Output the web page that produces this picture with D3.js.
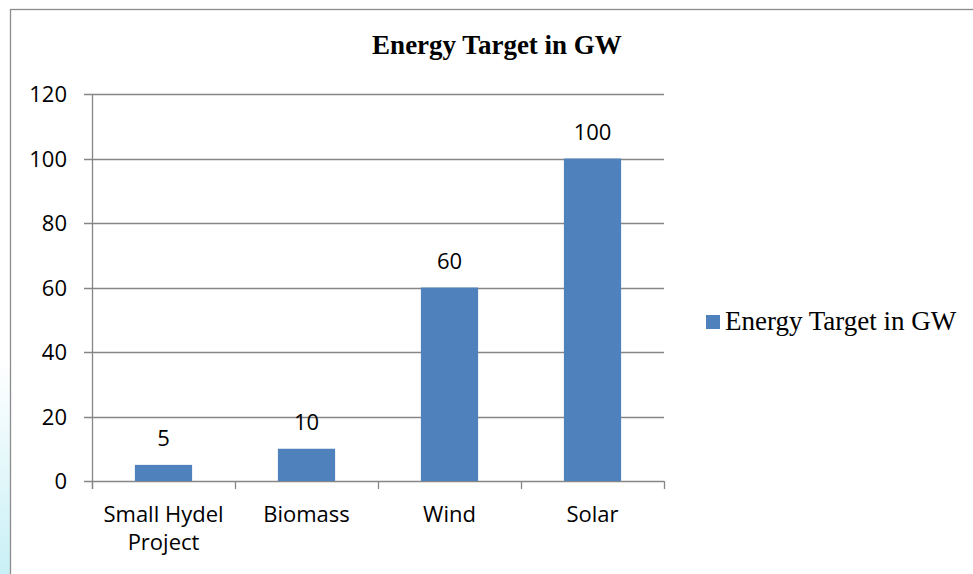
<!DOCTYPE html>
<html>
<head>
<meta charset="utf-8">
<script src="https://cdn.jsdelivr.net/npm/d3@7"></script>
<style>
  body { margin: 0; background: #fff; }
</style>
</head>
<body>
<div id="chart"></div>
<script>
// Données
const categories = [["Small Hydel", "Project"], ["Biomass"], ["Wind"], ["Solar"]];
const values = [5, 10, 60, 100];
const yTicks = [0, 20, 40, 60, 80, 100, 120];
const seriesName = "Energy Target in GW";

const width = 973, height = 574;
const sans = "'Open Sans', sans-serif";
const serif = "'Liberation Serif', 'Times New Roman', serif";

const svg = d3.select("#chart").append("svg")
    .attr("width", width)
    .attr("height", height);

// Filigrane pâle à gauche
const grad = svg.append("defs").append("linearGradient")
    .attr("id", "wm").attr("x1", 0).attr("y1", 0).attr("x2", 0).attr("y2", 1);
grad.append("stop").attr("offset", "0%").attr("stop-color", "#fff");
grad.append("stop").attr("offset", "100%").attr("stop-color", "#c9f0f6");
svg.append("rect").attr("x", 0).attr("y", 360).attr("width", 10).attr("height", 214)
    .attr("fill", "url(#wm)");

// Cadre du graphique
svg.append("rect")
    .attr("x", 10.5).attr("y", 9.5)
    .attr("width", 970).attr("height", 580)
    .attr("fill", "#fff")
    .attr("stroke", "#8c8c8c")
    .attr("stroke-width", 1.3);

// Échelles
const x = d3.scaleBand().domain(d3.range(categories.length)).range([92, 664]).paddingInner(0.6).paddingOuter(0.3);
const y = d3.scaleLinear().domain([0, 120]).range([481, 94]);

// Quadrillage
svg.append("g").selectAll("line").data(yTicks).enter().append("line")
    .attr("x1", 84).attr("x2", 664)
    .attr("y1", d => Math.round(y(d)) + 0.5).attr("y2", d => Math.round(y(d)) + 0.5)
    .attr("stroke", "#868686").attr("stroke-width", 1.3);

// Axe vertical
svg.append("line").attr("x1", 92.5).attr("x2", 92.5).attr("y1", 94).attr("y2", 489)
    .attr("stroke", "#868686").attr("stroke-width", 1.3);

// Graduations de l'axe horizontal
const step = (664 - 92) / categories.length;
svg.append("g").selectAll("line").data(d3.range(categories.length + 1)).enter().append("line")
    .attr("x1", d => Math.round(92 + d * step) + 0.5).attr("x2", d => Math.round(92 + d * step) + 0.5)
    .attr("y1", 481).attr("y2", 489)
    .attr("stroke", "#868686").attr("stroke-width", 1.3);

// Étiquettes Y
svg.append("g").selectAll("text").data(yTicks).enter().append("text")
    .attr("x", 67).attr("y", d => y(d) + 8)
    .attr("text-anchor", "end")
    .style("font-family", sans).style("font-size", "22px")
    .text(d => d);

// Barres
svg.append("g").selectAll("rect").data(values).enter().append("rect")
    .attr("x", (d, i) => x(i)).attr("width", x.bandwidth())
    .attr("y", d => y(d)).attr("height", d => y(0) - y(d))
    .attr("fill", "#4f81bd");

// Étiquettes de valeurs
svg.append("g").selectAll("text").data(values).enter().append("text")
    .attr("x", (d, i) => x(i) + x.bandwidth() / 2).attr("y", d => y(d) - 19)
    .attr("text-anchor", "middle")
    .style("font-family", sans).style("font-size", "22px")
    .text(d => d);

// Étiquettes des catégories
const cat = svg.append("g").selectAll("text").data(categories).enter().append("text")
    .attr("x", (d, i) => x(i) + x.bandwidth() / 2).attr("y", 522)
    .attr("text-anchor", "middle")
    .style("font-family", sans).style("font-size", "22px");
cat.selectAll("tspan").data((d, i) => d.map(t => ({ t, i }))).enter().append("tspan")
    .attr("x", d => x(d.i) + x.bandwidth() / 2)
    .attr("dy", (d, j) => j === 0 ? 0 : 28)
    .text(d => d.t);

// Titre
svg.append("text").attr("x", 497).attr("y", 54)
    .attr("text-anchor", "middle")
    .style("font-family", serif).style("font-size", "27px").style("font-weight", "bold")
    .text(seriesName);

// Légende
svg.append("rect").attr("x", 706).attr("y", 315).attr("width", 14).attr("height", 14).attr("fill", "#4f81bd");
svg.append("text").attr("x", 725).attr("y", 330)
    .style("font-family", serif).style("font-size", "27px")
    .text(seriesName);
</script>
</body>
</html>
